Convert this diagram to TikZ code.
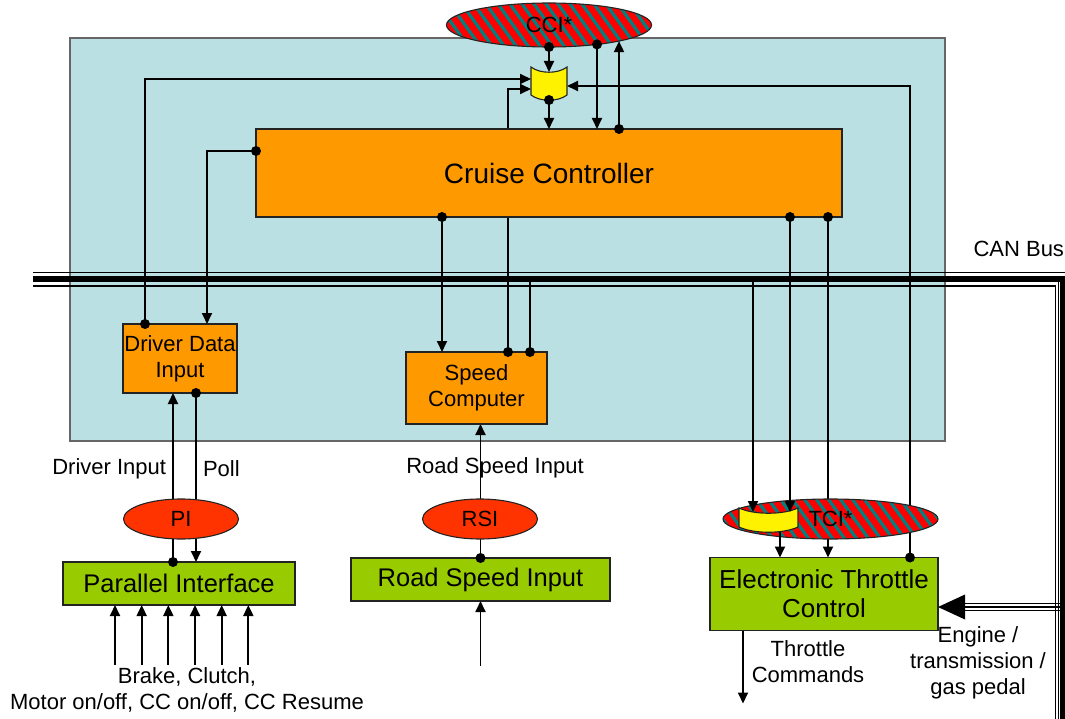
\documentclass[tikz,border=0pt]{standalone}
\usepackage{fontspec}
\setmainfont{Liberation Sans}
\usetikzlibrary{shapes.geometric,arrows.meta,calc}
\pgfdeclarelayer{bg}
\pgfdeclarelayer{behind}
\pgfsetlayers{bg,behind,main}
\definecolor{panel}{RGB}{187,224,227}
\definecolor{ccorange}{RGB}{255,153,0}
\definecolor{ccgreen}{RGB}{153,204,0}
\definecolor{ccred}{RGB}{255,51,0}
\definecolor{stripered}{RGB}{255,0,0}
\definecolor{stripeteal}{RGB}{0,128,128}
\definecolor{edge}{RGB}{35,35,35}

\begin{document}
\begin{tikzpicture}[x=1pt,y=-1pt,
  every node/.style={inner sep=0pt,outer sep=0pt},
  small/.style={font=\fontsize{22}{26}\selectfont},
  mid/.style={font=\fontsize{25.5}{29}\selectfont},
  box/.style={draw=edge,line width=1.3pt,rectangle,align=center},
  ell/.style={draw=edge,line width=1.1pt,ellipse,small},
  striped/.style={fill=stripered,path picture={
      \foreach \k in {-13,...,13}
        \draw[stripeteal,line width=3.2pt]
          ([xshift=\k*12pt]path picture bounding box.center) ++(-25,-35) -- ++(50,70);
    }},
  muxshape/.style={fill=yellow,draw=edge,line width=1.1pt},
  conn/.style={line width=1.8pt,draw=black},
  arr/.style={-{Triangle[length=11pt,width=10pt]}},
  rarr/.style={{Triangle[length=11pt,width=10pt]}-},
  label/.style={small,align=center}
]
\useasboundingbox (0,0) rectangle (1065,719);

% canvas and the shaded system boundary
\begin{pgfonlayer}{bg}
  \fill[white] (0,0) rectangle (1065,719);
  \filldraw[fill=panel,draw=black!60,line width=1.3pt] (70,38) rectangle (945,441);
\end{pgfonlayer}

% CAN bus, running across and turning down on the right
\coordinate (bus) at (0,279);
\coordinate (busdrop) at (1055.5,0);
\draw[line width=1.8pt] (33,272.5) -- (1065,272.5);
\draw[line width=5.5pt] (33,279) -- (1062.5,279) -- (1062.5,719);
\draw[line width=1.3pt] (1058.6,281) -- (1058.6,719);
\draw[line width=1.8pt] (33,285.8) -- (1055.5,285.8) -- (1055.5,719);

% function blocks
\node[box,fill=ccorange,minimum width=586pt,minimum height=88pt,
      font=\fontsize{28}{32}\selectfont] (CC) at (549,173) {Cruise Controller};
\node[box,fill=ccorange,minimum width=114pt,minimum height=69pt,small] (DDI) at (180,358.5) {Driver Data\\Input};
\node[box,fill=ccorange,minimum width=141pt,minimum height=72pt,small] (SC) at (476.5,388) {Speed\\Computer};
\node[box,fill=ccgreen,minimum width=232pt,minimum height=43pt,mid] (PIF) at (179,583.5) {Parallel Interface};
\node[box,fill=ccgreen,minimum width=259pt,minimum height=43pt,mid] (RSIN) at (480.5,579.5) {Road Speed Input};
\node[box,fill=ccgreen,minimum width=228pt,minimum height=73pt,
      font=\fontsize{26}{29}\selectfont] (ETC) at (824,594) {Electronic Throttle\\Control};

% interface ellipses
\node[ell,fill=ccred,minimum width=115pt,minimum height=40pt] (PI) at (181,519) {PI};
\node[ell,fill=ccred,minimum width=115pt,minimum height=40pt] (RSI) at (480,519) {RSI};
\node[ell,striped,minimum width=205pt,minimum height=44pt] (CCI) at (549,25) {CCI*};
\node[ell,striped,minimum width=215pt,minimum height=40pt] (TCI) at (830.5,519) {TCI*};

% multiplexers
\node[minimum width=36pt,minimum height=28pt] (mux) at (549,81) {};
\path[muxshape] (mux.north west) .. controls +(9,7) and +(-9,7) .. (mux.north east)
  -- (mux.south east) .. controls +(-9,7) and +(9,7) .. (mux.south west) -- cycle;
\node[minimum width=59pt,minimum height=19pt] (tmux) at (768.5,517.5) {};
\path[muxshape] (tmux.north west) .. controls +(15,7) and +(-15,7) .. (tmux.north east)
  -- (tmux.south east) .. controls +(-15,7) and +(15,7) .. (tmux.south west) -- cycle;

% connectors passing behind blocks and ellipses
\begin{pgfonlayer}{behind}
  \draw[conn,arr] ([xshift=31.5]SC.north) |- ([yshift=-8]mux.west);
  \draw[conn,arr] ([xshift=-6]PIF.north) -- ([xshift=-6]PIF.north |- DDI.south);
  \draw[conn,arr] ([xshift=16]DDI.south) -- ([xshift=16]DDI.south |- PIF.north);
  \draw[conn,arr] (RSIN.north) -- (RSIN.north |- SC.south);
  \draw[conn,arr] ([xshift=279]CC.south) -- ([xshift=279]CC.south |- ETC.north);
  \draw[conn,arr] ([xshift=86]ETC.north) |- ([yshift=-5]mux.east);
\end{pgfonlayer}

% connectors
\draw[conn,arr] ([xshift=-35]DDI.north) |- ([yshift=2]mux.west);
\draw[conn,arr] ([yshift=22]CC.west) -| ([xshift=27]DDI.north);
\draw[conn,arr] (CCI.south) -- ([yshift=-5]mux.north);
\draw[conn,arr] ([yshift=-5]mux.south) -- (CC.north);
\draw[conn,arr] ([xshift=48,yshift=2.6]CCI.south) -- ([xshift=48]CC.north);
\draw[conn,arr] ([xshift=70]CC.north) -- ([xshift=70,yshift=5.9]CCI.south);
\draw[conn,arr] ([xshift=-107]CC.south) -- ([xshift=-107]CC.south |- SC.north);
\draw[conn] ([xshift=53.5]SC.north) -- ([xshift=53.5]SC.north |- bus);
\draw[conn,arr] ([xshift=241]CC.south) -- ($([xshift=241]CC.south |- tmux.north)+(0,4)$);
\draw[conn,arr] ([xshift=-15.5]tmux.north |- bus) -- ([xshift=-15.5,yshift=-4]tmux.north);
\draw[conn,arr] ([xshift=11.5,yshift=-4.5]tmux.south) -- ([xshift=11.5]tmux.south |- ETC.north);
\draw[conn,arr] ([xshift=-81]ETC.south) -- ++(0,73);
\draw[conn,rarr] (RSIN.south) -- ++(0,65);
\foreach \dx in {-64,-37.33,-10.67,16,42.67,69.33}
  \draw[conn,rarr] ([xshift=\dx]PIF.south) -- ++(0,60);

% engine / transmission / gas pedal feed from the bus
\fill ([yshift=-13]ETC.east) coordinate (eng) -- ++(27,-12.5) -- ++(0,25) -- cycle;
\foreach \dy in {-3.6,0,3.6}
  \draw[line width=1.6pt] ([xshift=27,yshift=\dy]eng) -- ([xshift=27,yshift=\dy]eng -| busdrop);

% junction dots
\foreach \p in {([xshift=-35]DDI.north),([yshift=22]CC.west),(CCI.south),
                ([yshift=-5]mux.south),([xshift=48,yshift=2.6]CCI.south),
                ([xshift=70]CC.north),([xshift=-107]CC.south),
                ([xshift=31.5]SC.north),([xshift=53.5]SC.north),
                ([xshift=241]CC.south),([xshift=279]CC.south),
                ([xshift=86]ETC.north),([xshift=-6]PIF.north),
                ([xshift=16]DDI.south),(RSIN.north)}
  \fill \p circle[radius=5];

% labels
\node[small,anchor=east] (lDI) at (166,469) {Driver Input};
\node[small,anchor=west] (lPoll) at (203,469) {Poll};
\node[small] (lRSI) at (495,468) {Road Speed Input};
\node[label] (lPIF) at (187,690) {Brake, Clutch,\\Motor on/off, CC on/off, CC Resume};
\node[label] (lTC) at (808,662) {Throttle\\Commands};
\node[label] (lEng) at (978,663) {Engine /\\transmission /\\gas pedal};
\node[small,anchor=east] (lCAN) at (1064,249) {CAN Bus};
\end{tikzpicture}
\end{document}
